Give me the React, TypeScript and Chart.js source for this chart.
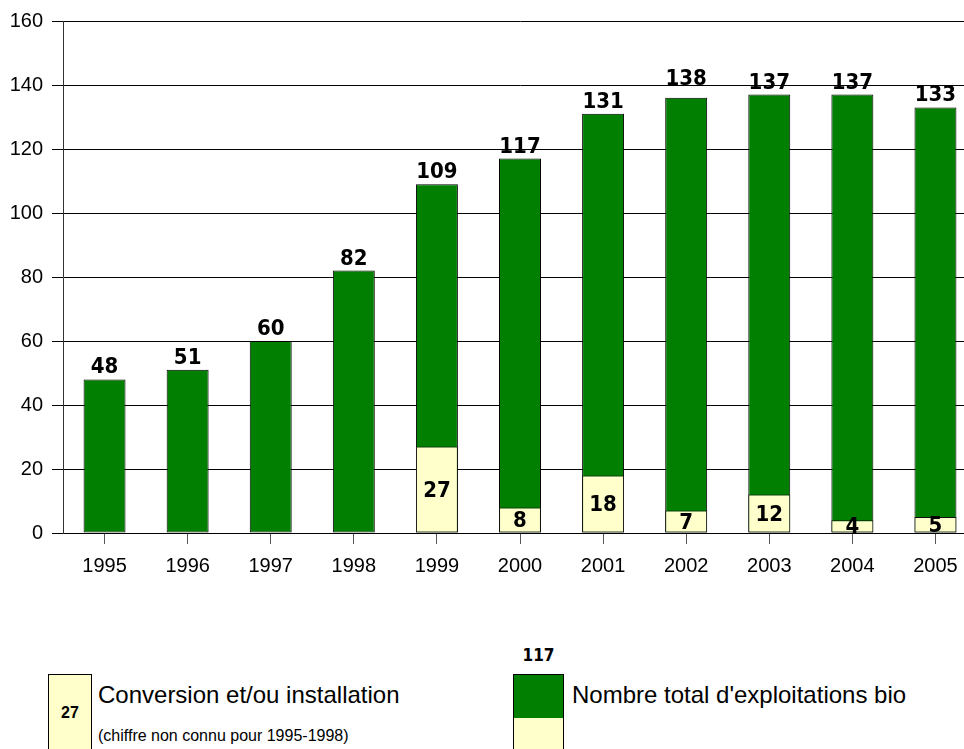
import React, { useEffect, useRef } from "react";
import { Chart, registerables } from "chart.js";

Chart.register(...registerables);

const years = ["1995", "1996", "1997", "1998", "1999", "2000", "2001", "2002", "2003", "2004", "2005"];
const totals = [48, 51, 60, 82, 109, 117, 131, 136, 137, 137, 133];
const totalLabels = [48, 51, 60, 82, 109, 117, 131, 138, 137, 137, 133];
const conversions: (number | null)[] = [null, null, null, null, 27, 8, 18, 7, 12, 4, 5];

const GREEN = "#007F00";
const YELLOW = "#FFFFCC";
const LABEL_FONT = '"DejaVu Sans Condensed", "DejaVu Sans", Verdana, sans-serif';
const AXIS_FONT = '"Liberation Sans", Arial, sans-serif';

const labelPlugin = {
  id: "valueLabels",
  afterDatasetsDraw(chart: any) {
    const ctx = chart.ctx;
    const yScale = chart.scales.y;
    const convMeta = chart.getDatasetMeta(0);
    const totMeta = chart.getDatasetMeta(1);
    ctx.save();
    ctx.fillStyle = "#000";
    ctx.font = `bold 22px ${LABEL_FONT}`;
    ctx.textAlign = "center";
    ctx.textBaseline = "alphabetic";
    totMeta.data.forEach((bar: any, i: number) => {
      const y = yScale.getPixelForValue(totalLabels[i]);
      ctx.fillText(String(totalLabels[i]), bar.x, y - 6);
    });
    ctx.textBaseline = "middle";
    convMeta.data.forEach((bar: any, i: number) => {
      const v = conversions[i];
      if (v == null) return;
      const top = yScale.getPixelForValue(v);
      const bottom = yScale.getPixelForValue(0);
      ctx.fillText(String(v), bar.x, (top + bottom) / 2 + 1);
    });
    ctx.restore();
  },
};

export default function App() {
  const canvasRef = useRef<HTMLCanvasElement | null>(null);

  useEffect(() => {
    if (!canvasRef.current) return;
    const chart = new Chart(canvasRef.current, {
      type: "bar",
      data: {
        labels: years,
        datasets: [
          {
            label: "Conversion et/ou installation",
            data: conversions,
            backgroundColor: YELLOW,
            borderColor: "#111",
            borderWidth: 1,
            borderSkipped: false,
            grouped: false,
            barPercentage: 0.505,
            categoryPercentage: 1,
          },
          {
            label: "Nombre total d'exploitations bio",
            data: totals,
            backgroundColor: GREEN,
            borderColor: "#000",
            borderWidth: 1,
            borderSkipped: false,
            grouped: false,
            barPercentage: 0.505,
            categoryPercentage: 1,
          },
        ],
      },
      options: {
        responsive: false,
        animation: false,
        devicePixelRatio: 1,
        layout: { padding: { top: 20, right: 3, left: 0, bottom: 0 } },
        plugins: {
          legend: { display: false },
          tooltip: { enabled: false },
        },
        scales: {
          x: {
            offset: true,
            afterFit: (s: any) => {
              s.height = 67;
            },
            grid: {
              drawOnChartArea: false,
              offset: false,
              drawTicks: true,
              tickLength: 11,
              color: "#555",
            },
            border: { display: true, color: "#000", width: 1 },
            ticks: {
              color: "#000",
              padding: 10,
              font: { family: AXIS_FONT, size: 20 },
              maxRotation: 0,
              autoSkip: false,
            },
          },
          y: {
            min: 0,
            max: 160,
            afterFit: (s: any) => {
              s.width = 63;
            },
            grid: {
              color: "#000",
              lineWidth: 1,
              drawTicks: true,
              tickLength: 11,
            },
            border: { display: true, color: "#333", width: 1 },
            ticks: {
              stepSize: 20,
              color: "#000",
              padding: 9,
              font: { family: AXIS_FONT, size: 20 },
            },
          },
        },
      },
      plugins: [labelPlugin],
    });
    return () => chart.destroy();
  }, []);

  const txt: React.CSSProperties = {
    position: "absolute",
    fontFamily: AXIS_FONT,
    color: "#000",
    whiteSpace: "nowrap",
    lineHeight: 1,
  };

  return (
    <div
      style={{
        position: "absolute",
        left: 0,
        top: 0,
        width: 964,
        height: 749,
        overflow: "hidden",
        background: "#fff",
      }}
    >
      <canvas ref={canvasRef} width={980} height={600} style={{ position: "absolute", left: 0, top: 0 }} />
      {/* Legend: conversion */}
      <div
        style={{
          position: "absolute",
          left: 48,
          top: 674,
          width: 42,
          height: 100,
          background: YELLOW,
          border: "1px solid #000",
        }}
      />
      <div style={{ ...txt, left: 48, width: 44, top: 705, textAlign: "center", fontWeight: "bold", fontSize: 16 }}>27</div>
      <div style={{ ...txt, left: 98, top: 683, fontSize: 24 }}>Conversion et/ou installation</div>
      <div style={{ ...txt, left: 98, top: 728, fontSize: 16 }}>(chiffre non connu pour 1995-1998)</div>
      {/* Legend: total */}
      <div style={{ ...txt, left: 513, width: 51, top: 647, textAlign: "center", fontWeight: "bold", fontSize: 17, fontFamily: LABEL_FONT }}>117</div>
      <div
        style={{
          position: "absolute",
          left: 513,
          top: 674,
          width: 49,
          height: 100,
          border: "1px solid #000",
          background: `linear-gradient(to bottom, ${GREEN} 0px, ${GREEN} 43px, ${YELLOW} 43px)`,
        }}
      />
      <div style={{ ...txt, left: 572, top: 683, fontSize: 24 }}>Nombre total d'exploitations bio</div>
    </div>
  );
}
